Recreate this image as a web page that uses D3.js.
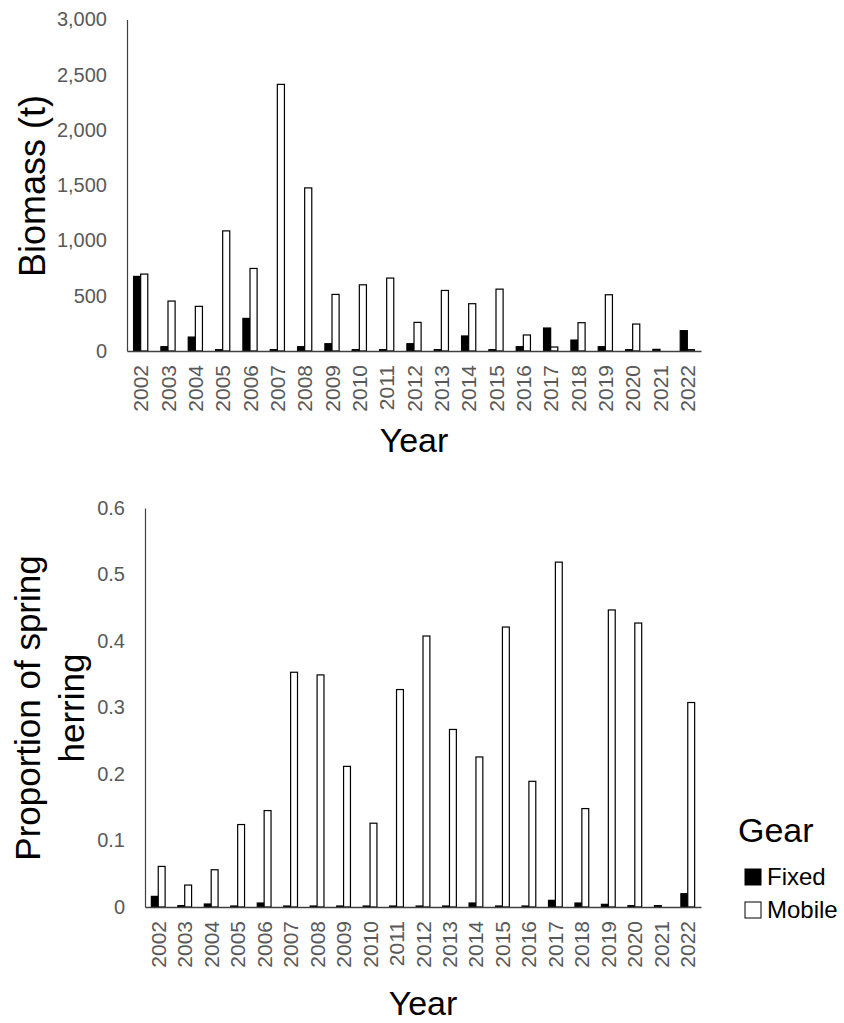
<!DOCTYPE html>
<html>
<head>
<meta charset="utf-8">
<script src="https://cdn.jsdelivr.net/npm/d3@7"></script>
<style>
  body { margin: 0; background: #fff; }
  text { font-family: "Liberation Sans", Arial, sans-serif; }
</style>
</head>
<body>
<svg class="chart"></svg>
<script>
// Data
var years = ["2002","2003","2004","2005","2006","2007","2008","2009","2010","2011","2012",
             "2013","2014","2015","2016","2017","2018","2019","2020","2021","2022"];
var gears = ["Fixed", "Mobile"];

// Biomass (t)
var biomassFixed  = [675, 39, 126, 12, 295, 12, 39, 66, 12, 12, 66, 12, 136, 12, 39, 208, 99, 39, 12, 15, 184];
var biomassMobile = [696, 452, 404, 1087, 747, 2413, 1476, 512, 599, 660, 259, 548, 428, 560, 145, 36, 256, 509, 244, 0, 12];
var biomassTicks  = [0, 500, 1000, 1500, 2000, 2500, 3000];

// Proportion of spring herring
var propFixed  = [0.016, 0.002, 0.0045, 0.0015, 0.006, 0.0015, 0.0015, 0.0015, 0.0015, 0.0015, 0.0015,
                  0.0015, 0.006, 0.0015, 0.0015, 0.010, 0.006, 0.004, 0.002, 0.002, 0.020];
var propMobile = [0.061, 0.033, 0.056, 0.124, 0.145, 0.353, 0.349, 0.2115, 0.126, 0.327, 0.4075,
                  0.267, 0.2256, 0.421, 0.189, 0.5186, 0.148, 0.4467, 0.427, 0, 0.3075];
var propTicks  = [0, 0.1, 0.2, 0.3, 0.4, 0.5, 0.6];

var colors = {Fixed: "#000", Mobile: "#fff"};

var svg = d3.select(".chart")
    .attr("width", 844)
    .attr("height", 1023);

// Draws one grouped bar panel
function panel(opt) {
  var m = opt.margin,
      width = opt.right - m.left,
      height = m.bottom - m.top;

  var x = d3.scaleBand().domain(years).range([0, width]);
  var bw = x.bandwidth();
  var x1 = d3.scaleBand().domain(gears).range([bw * 0.24, bw * 0.76]);
  var y = d3.scaleLinear().domain([0, opt.max]).range([height, 0]);

  var g = svg.append("g")
      .attr("transform", "translate(" + m.left + "," + m.top + ")");

  var rows = years.map(function(yr, i) {
    return {year: yr, Fixed: opt.fixed[i], Mobile: opt.mobile[i]};
  });

  // Bars
  g.selectAll(".year")
    .data(rows)
    .enter().append("g")
      .attr("transform", function(d) { return "translate(" + x(d.year) + ",0)"; })
    .selectAll("rect")
    .data(function(d) { return gears.map(function(k) { return {key: k, value: d[k]}; }); })
    .enter().append("rect")
      .attr("x", function(d) { return x1(d.key); })
      .attr("y", function(d) { return y(d.value); })
      .attr("width", x1.bandwidth())
      .attr("height", function(d) { return height - y(d.value); })
      .attr("fill", function(d) { return colors[d.key]; })
      .attr("stroke", "#000")
      .attr("stroke-width", 1.2);

  // y axis
  var yAxis = g.append("g")
      .call(d3.axisLeft(y).tickValues(opt.ticks).tickSize(0).tickPadding(20).tickFormat(opt.format));
  yAxis.select(".domain").attr("stroke", "#404040").attr("stroke-width", 1.2);
  yAxis.selectAll("text")
      .attr("fill", "#595959")
      .style("font-size", "20px");

  // x axis
  var xAxis = g.append("g")
      .attr("transform", "translate(0," + height + ")")
      .call(d3.axisBottom(x).tickSize(0).tickPadding(0));
  xAxis.select(".domain").attr("stroke", "#404040").attr("stroke-width", 1.5);
  xAxis.selectAll("text")
      .attr("fill", "#595959")
      .style("font-size", "21px")
      .attr("text-anchor", "end")
      .attr("dy", null)
      .attr("y", 0)
      .attr("transform", "translate(7.5,14) rotate(-90)");

  // x title
  g.append("text")
      .attr("x", width / 2)
      .attr("y", height + opt.xTitleGap)
      .attr("text-anchor", "middle")
      .style("font-size", "34px")
      .text("Year");

  return g;
}

panel({
  margin: {left: 127, top: 19.5, bottom: 351},
  right: 701,
  max: 3000,
  fixed: biomassFixed,
  mobile: biomassMobile,
  ticks: biomassTicks,
  format: d3.format(","),
  xTitleGap: 101
});

panel({
  margin: {left: 145, top: 508, bottom: 907},
  right: 701,
  max: 0.6,
  fixed: propFixed,
  mobile: propMobile,
  ticks: propTicks,
  format: function(d) { return d === 0 ? "0" : d3.format(".1f")(d); },
  xTitleGap: 108
});

// y titles
svg.append("text")
    .attr("transform", "translate(45,186) rotate(-90)")
    .attr("text-anchor", "middle")
    .style("font-size", "36px")
    .text("Biomass (t)");

svg.append("text")
    .attr("transform", "translate(40,708) rotate(-90)")
    .attr("text-anchor", "middle")
    .style("font-size", "35px")
    .text("Proportion of spring");

svg.append("text")
    .attr("transform", "translate(84,708) rotate(-90)")
    .attr("text-anchor", "middle")
    .style("font-size", "35px")
    .text("herring");

// Legend
var legend = svg.append("g").attr("transform", "translate(738,842)");
legend.append("text")
    .style("font-size", "34px")
    .text("Gear");

var item = legend.selectAll(".item")
    .data(gears)
    .enter().append("g")
      .attr("transform", function(d, i) { return "translate(7," + (27 + i * 33) + ")"; });
item.append("rect")
    .attr("width", 16)
    .attr("height", 16)
    .attr("fill", function(d) { return colors[d]; })
    .attr("stroke", "#000")
    .attr("stroke-width", 1);
item.append("text")
    .attr("x", 22)
    .attr("y", 16)
    .style("font-size", "24px")
    .text(function(d) { return d; });
</script>
</body>
</html>
